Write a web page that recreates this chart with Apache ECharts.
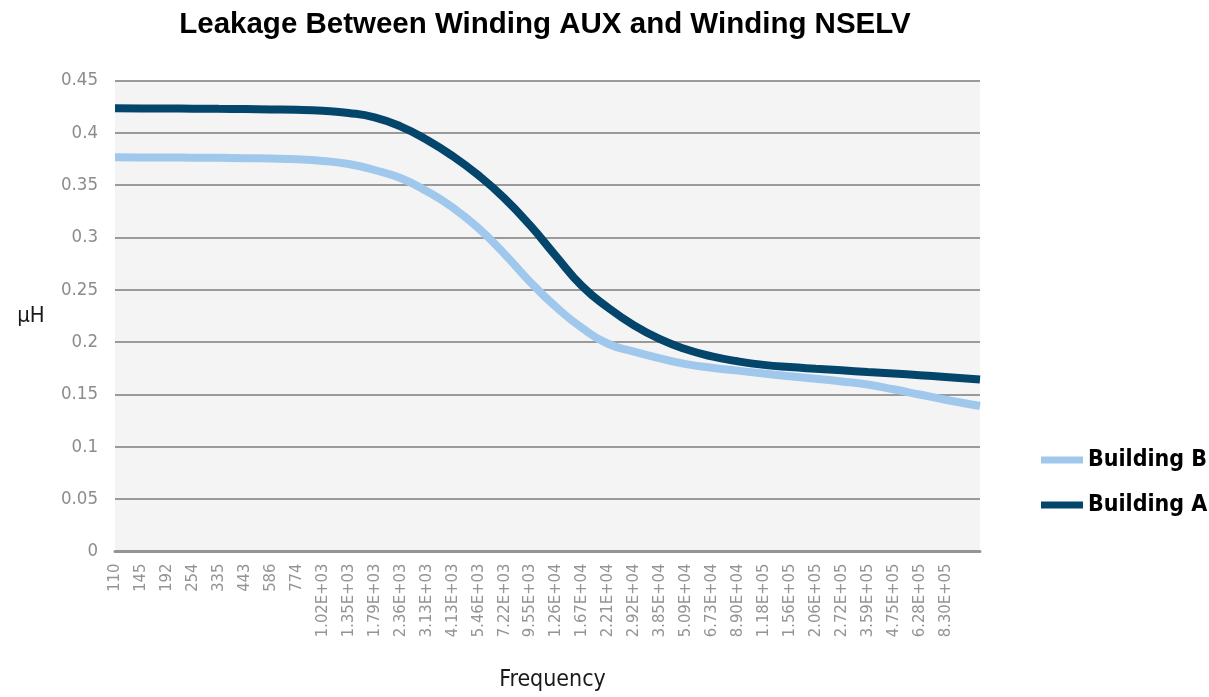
<!DOCTYPE html>
<html>
<head>
<meta charset="utf-8">
<script src="https://cdn.jsdelivr.net/npm/echarts@6/dist/echarts.min.js"></script>
<style>
  html, body { margin: 0; padding: 0; background: #ffffff; }
  #chart { width: 1209px; height: 697px; }
</style>
</head>
<body>
<div id="chart"></div>
<script>
// Frequency sweep: 101 log-spaced points, every third one is labelled
const freqLabels = [
  '110', '145', '192', '254', '335', '443', '586', '774',
  '1.02E+03', '1.35E+03', '1.79E+03', '2.36E+03', '3.13E+03', '4.13E+03',
  '5.46E+03', '7.22E+03', '9.55E+03', '1.26E+04', '1.67E+04', '2.21E+04',
  '2.92E+04', '3.85E+04', '5.09E+04', '6.73E+04', '8.90E+04', '1.18E+05',
  '1.56E+05', '2.06E+05', '2.72E+05', '3.59E+05', '4.75E+05', '6.28E+05',
  '8.30E+05'
];
const lastPointIndex = 100;

// Sweep positions (point index) at which the curves are sampled
const sampleIndex = [
  0, 3, 6, 9, 12, 15, 18, 21, 24, 27, 30, 33, 36, 39, 42, 45, 48,
  51, 54, 57, 60, 63, 66, 69, 72, 75, 78, 81, 84, 87, 90, 93, 96, 100
];

// Leakage inductance, µH
const buildingA = [
  0.4234, 0.4233, 0.4232, 0.4231, 0.4229, 0.4227, 0.4224, 0.4220, 0.4210,
  0.4190, 0.4148, 0.4062, 0.3935, 0.3780, 0.3595, 0.3377, 0.3115, 0.2820,
  0.2535, 0.2330, 0.2160, 0.2028, 0.1932, 0.1864, 0.1817, 0.1783, 0.1762,
  0.1746, 0.1731, 0.1714, 0.1700, 0.1685, 0.1668, 0.1643
];
const buildingB = [
  0.3766, 0.3765, 0.3764, 0.3763, 0.3761, 0.3758, 0.3754, 0.3747, 0.3731,
  0.3702, 0.3645, 0.3568, 0.3445, 0.3290, 0.3090, 0.2845, 0.2575, 0.2335,
  0.2135, 0.1985, 0.1910, 0.1845, 0.1790, 0.1755, 0.1728, 0.1700, 0.1675,
  0.1650, 0.1625, 0.1595, 0.1550, 0.1500, 0.1450, 0.1390
];

const yTicks = { min: 0, max: 0.45, step: 0.05 };

const COLOR_A = '#03456B';
const COLOR_B = '#A0C8EC';
const FONT = '"DejaVu Sans Condensed", "Liberation Sans Narrow", sans-serif';

const pairs = (vals) => sampleIndex.map((x, i) => [x, vals[i]]);

const chart = echarts.init(document.getElementById('chart'), null, { renderer: 'canvas' });

chart.setOption({
  animation: false,
  backgroundColor: '#ffffff',
  title: {
    text: 'Leakage Between Winding AUX and Winding NSELV',
    left: 540,
    top: 5,
    textAlign: 'center',
    textStyle: {
      fontFamily: '"Liberation Sans", Arial, sans-serif',
      fontWeight: 'bold',
      fontSize: 29.5,
      color: '#000000'
    }
  },
  legend: {
    orient: 'vertical',
    left: 1036,
    top: 441,
    itemGap: 17,
    itemWidth: 42,
    itemHeight: 7,
    icon: 'rect',
    data: ['Building B', 'Building A'],
    textStyle: {
      fontFamily: FONT,
      fontWeight: 'bold',
      fontSize: 23,
      lineHeight: 28,
      color: '#000000'
    }
  },
  grid: {
    left: 115,
    right: 229,
    top: 80.5,
    bottom: 145.5,
    show: true,
    backgroundColor: '#F4F4F4',
    borderWidth: 0
  },
  xAxis: {
    type: 'value',
    min: 0,
    max: lastPointIndex,
    interval: 3,
    name: 'Frequency',
    nameLocation: 'middle',
    nameGap: 129,
    nameTextStyle: {
      fontFamily: FONT,
      fontSize: 23,
      color: '#1a1a1a',
      verticalAlign: 'middle',
      padding: [0, 0, 0, 10]
    },
    axisLine: { show: true, lineStyle: { color: '#959595', width: 3 } },
    axisTick: { show: false },
    splitLine: { show: false },
    axisLabel: {
      rotate: 90,
      margin: 12,
      fontFamily: FONT,
      fontSize: 16.5,
      color: '#949494',
      showMaxLabel: false,
      formatter: (v) => {
        const k = Math.round(v / 3);
        return (v % 3 === 0 && freqLabels[k] !== undefined) ? freqLabels[k] : '';
      }
    }
  },
  yAxis: {
    type: 'value',
    min: yTicks.min,
    max: yTicks.max,
    interval: yTicks.step,
    name: 'µH',
    nameLocation: 'middle',
    nameRotate: 0,
    nameGap: 84,
    nameTextStyle: {
      fontFamily: FONT,
      fontSize: 22,
      color: '#1a1a1a',
      align: 'center',
      verticalAlign: 'middle',
      padding: [10, 0, 0, 0]
    },
    axisLine: { show: false },
    axisTick: { show: false },
    splitLine: { show: true, lineStyle: { color: '#9a9a9a', width: 2 } },
    axisLabel: {
      margin: 17,
      fontFamily: FONT,
      fontSize: 18.5,
      color: '#8c8c8c'
    }
  },
  series: [
    {
      name: 'Building B',
      type: 'line',
      data: pairs(buildingB),
      smooth: 0.5,
      showSymbol: false,
      symbol: 'none',
      color: COLOR_B,
      lineStyle: { color: COLOR_B, width: 8, cap: 'butt' },
      z: 2
    },
    {
      name: 'Building A',
      type: 'line',
      data: pairs(buildingA),
      smooth: 0.5,
      showSymbol: false,
      symbol: 'none',
      color: COLOR_A,
      lineStyle: { color: COLOR_A, width: 8, cap: 'butt' },
      z: 3
    }
  ]
});
</script>
</body>
</html>
